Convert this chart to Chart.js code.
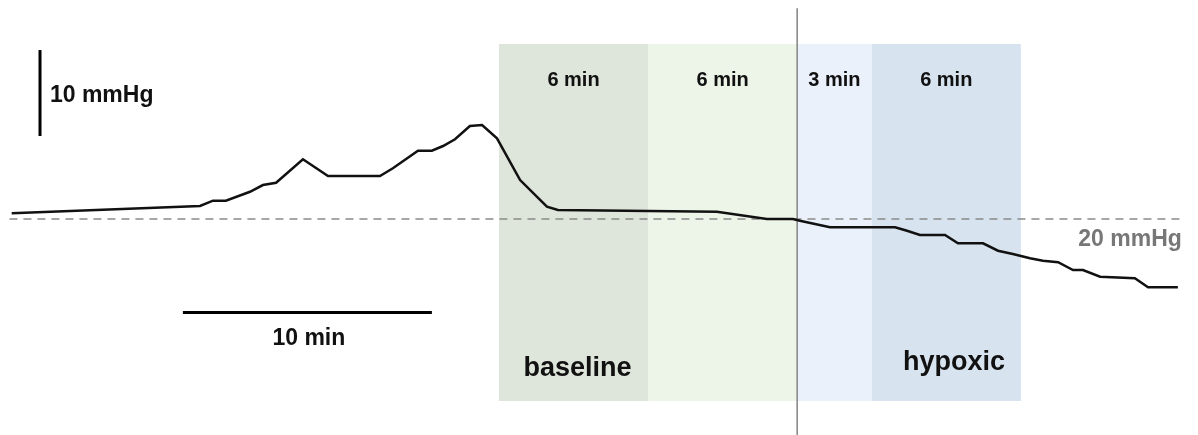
<!DOCTYPE html>
<html>
<head>
<meta charset="utf-8">
<script src="https://cdn.jsdelivr.net/npm/chart.js@4/dist/chart.umd.min.js"></script>
<style>
html,body{margin:0;padding:0;background:#fff;}
#wrap{width:1198px;height:435px;position:relative;}
</style>
</head>
<body>
<div id="wrap"><canvas id="c" width="1198" height="435"></canvas></div>
<script>
// time in minutes (0 = start of baseline), pressure in mmHg
const times = [-19.61,-12.03,-11.51,-10.99,-10.02,-9.50,-8.97,-7.89,-6.88,-4.79,-4.27,-3.26,-2.70,-2.25,-1.77,-1.17,-0.68,-0.08,0.85,1.93,2.37,8.77,10.78,11.83,12.11,13.32,15.94,16.42,16.94,17.95,18.47,19.48,20.08,20.68,21.37,21.89,22.50,23.10,23.50,24.19,25.59,26.12,27.32];
const pressures = [20.66,21.51,22.13,22.13,23.17,23.95,24.22,26.94,25.00,25.00,25.90,27.94,27.94,28.49,29.27,30.81,30.93,29.38,24.53,21.43,21.05,20.85,20.00,20.00,19.80,19.03,19.03,18.64,18.14,18.14,17.17,17.17,16.31,15.93,15.43,15.15,14.97,14.07,14.07,13.29,13.10,12.06,12.06];
const phaseStarts = [0, 6, 12, 15];
const phaseEnds = [6, 12, 15, 21];
const phaseLabels = ['6 min', '6 min', '3 min', '6 min'];
const phaseColors = ['#dee5da', '#edf4e8', '#eaf1fa', '#d7e3ef'];
const referenceLevel = 20;
const referenceLabel = '20 mmHg';
const switchTime = 12;
const bandTop = 40.35, bandBottom = -1.16;

const annot = {
  id: 'annot',
  beforeDatasetsDraw(chart) {
    const ctx = chart.ctx, xs = chart.scales.x, ys = chart.scales.y;
    const F = (s) => 'bold ' + s + 'px "Liberation Sans", Arial, sans-serif';
    ctx.save();
    ctx.textBaseline = 'alphabetic';
    // phase bands
    for (let i = 0; i < phaseStarts.length; i++) {
      const x0 = xs.getPixelForValue(phaseStarts[i]), x1 = xs.getPixelForValue(phaseEnds[i]);
      const y0 = ys.getPixelForValue(bandTop), y1 = ys.getPixelForValue(bandBottom);
      ctx.fillStyle = phaseColors[i];
      ctx.fillRect(x0, y0, x1 - x0, y1 - y0);
      ctx.fillStyle = '#111';
      ctx.font = F(20);
      ctx.textAlign = 'center';
      ctx.fillText(phaseLabels[i], (x0 + x1) / 2, ys.getPixelForValue(35.47));
    }
    // phase names
    ctx.font = F(27);
    ctx.fillStyle = '#111';
    ctx.textAlign = 'center';
    ctx.fillText('baseline', xs.getPixelForValue(3.16), ys.getPixelForValue(1.74));
    ctx.fillText('hypoxic', xs.getPixelForValue(18.31), ys.getPixelForValue(2.44));
    // reference dashed line
    const yr = ys.getPixelForValue(referenceLevel);
    ctx.strokeStyle = '#8a8a8a'; ctx.lineWidth = 1.6; ctx.setLineDash([8, 6]);
    ctx.beginPath(); ctx.moveTo(xs.getPixelForValue(-19.7), yr); ctx.lineTo(xs.getPixelForValue(27.45), yr); ctx.stroke();
    ctx.setLineDash([]);
    ctx.fillStyle = '#777'; ctx.font = F(23);
    ctx.textAlign = 'right';
    ctx.fillText(referenceLabel, xs.getPixelForValue(27.48), ys.getPixelForValue(16.86));
    // vertical switch line
    ctx.strokeStyle = '#8a8a8a'; ctx.lineWidth = 1.6;
    const xv = xs.getPixelForValue(switchTime);
    ctx.beginPath(); ctx.moveTo(xv, ys.getPixelForValue(44.5)); ctx.lineTo(xv, ys.getPixelForValue(-5.2)); ctx.stroke();
    // scale bars
    ctx.strokeStyle = '#000'; ctx.lineWidth = 3;
    const xb = xs.getPixelForValue(-18.47);
    ctx.beginPath(); ctx.moveTo(xb, ys.getPixelForValue(39.65)); ctx.lineTo(xb, ys.getPixelForValue(29.65)); ctx.stroke();
    const yb = ys.getPixelForValue(9.13);
    ctx.beginPath(); ctx.moveTo(xs.getPixelForValue(-12.72), yb); ctx.lineTo(xs.getPixelForValue(-2.70), yb); ctx.stroke();
    ctx.fillStyle = '#111'; ctx.font = F(23);
    ctx.textAlign = 'left';
    ctx.fillText('10 mmHg', xs.getPixelForValue(-18.07), ys.getPixelForValue(33.60));
    ctx.textAlign = 'center';
    ctx.fillText('10 min', xs.getPixelForValue(-7.65), ys.getPixelForValue(5.35));
    ctx.restore();
  }
};

new Chart(document.getElementById('c'), {
  type: 'line',
  data: {
    datasets: [{
      data: times.map((t, i) => ({ x: t, y: pressures[i] })),
      borderColor: '#111',
      borderWidth: 2.5,
      pointRadius: 0,
      tension: 0,
      fill: false
    }]
  },
  options: {
    responsive: false,
    animation: false,
    devicePixelRatio: 1,
    layout: { padding: 0 },
    plugins: { legend: { display: false }, tooltip: { enabled: false } },
    scales: {
      x: { type: 'linear', min: -20.08, max: 28.13, display: false },
      y: { type: 'linear', min: -5.12, max: 45.47, display: false }
    }
  },
  plugins: [annot]
});
</script>
</body>
</html>
